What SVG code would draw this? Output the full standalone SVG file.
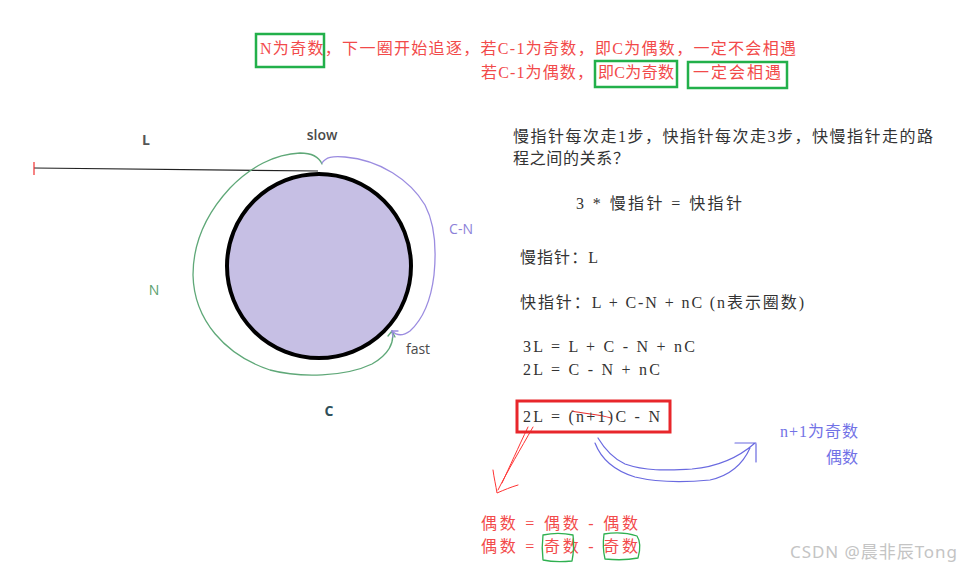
<svg xmlns="http://www.w3.org/2000/svg" width="961" height="571" viewBox="0 0 961 571">
<style>
.red{fill:#f24a4a;font-family:"Liberation Serif","Noto Sans CJK SC",serif;font-size:16px}
.blk{fill:#333;font-family:"Liberation Serif","Noto Sans CJK SC",serif;font-size:16px}
.blu{fill:#7272e6;font-family:"Liberation Serif","Noto Sans CJK SC",serif;font-size:16px}
.lbl{font-family:"Open Sans","Noto Sans",sans-serif;font-size:14px}
.gbox{fill:none;stroke:#22b04a;stroke-width:2.5}
.hand{fill:none;stroke-linecap:round;stroke-linejoin:round}
</style>
<rect width="961" height="571" fill="#fff"/>

<g id="top-note">
<text class="red" x="260" y="54" textLength="536">N为奇数，下一圈开始追逐，若C-1为奇数，即C为偶数，一定不会相遇</text>
<text class="red" x="481" y="78" textLength="112">若C-1为偶数，</text>
<text class="red" x="598" y="78" textLength="76">即C为奇数</text>
<text class="red" x="693" y="78" textLength="88">一定会相遇</text>
<rect class="gbox" x="256" y="34" width="68" height="33"/>
<rect class="gbox" x="595" y="61" width="82" height="26"/>
<rect class="gbox" x="688" y="62" width="99" height="26"/>
</g>

<g id="loop">
<line x1="34" y1="168" x2="318" y2="171" stroke="#222" stroke-width="1.2"/>
<line x1="34" y1="162" x2="34" y2="175" stroke="#f03030" stroke-width="1.2"/>
<circle cx="319" cy="266" r="92" fill="#c6bfe4" stroke="#000" stroke-width="4"/>
<text class="lbl" x="146" y="145" fill="#555" text-anchor="middle" font-weight="bold">L</text>
<text class="lbl" x="322" y="140" fill="#4a4a4a" text-anchor="middle" font-weight="600">slow</text>
<text class="lbl" x="461" y="234" fill="#8c7fd8" text-anchor="middle">C-N</text>
<text class="lbl" x="154" y="295" fill="#5a9e6e" text-anchor="middle">N</text>
<text class="lbl" x="418" y="354" fill="#4a4a4a" text-anchor="middle">fast</text>
<text class="lbl" x="329" y="416" fill="#2f4f5a" text-anchor="middle" font-weight="bold">C</text>
</g>

<g id="connectors">
<path class="hand" stroke="#5fa878" stroke-width="1.3" d="M322,164 C319,157 313,153 300,153 C275,154 250,167 230,188 C205,215 193,245 193,275 C194,320 225,355 270,370 C300,378 345,377 372,364 C388,355 395,343 392,331"/>
<path class="hand" stroke="#5fa878" stroke-width="1.3" d="M388,336 L392,331 L395,337"/>
<path class="hand" stroke="#9b8ce0" stroke-width="1.3" d="M322,163 C326,157 332,156 345,157 C380,160 410,180 425,205 C437,228 436,255 434,275 C431,300 422,320 410,331 C403,336 397,336 392,331"/>
<path class="hand" stroke="#9b8ce0" stroke-width="1.3" d="M393,337 L392,331 L398,331"/>
<path class="hand" stroke="#e83030" stroke-width="1.2" d="M572,411 C585,414 598,414 611,418"/>
<path class="hand" stroke="#ff3434" stroke-width="1" d="M533,427 C520,450 508,470 498,490 M528,427 C518,448 510,466 502,483 M493,470 C494,478 496,486 497,493 C504,490 511,487 518,485"/>
<path class="hand" stroke="#6a6ae0" stroke-width="1.2" d="M598,438 C604,448 612,458 625,464 C648,472 670,470 692,469 C715,467 738,458 755,443 M595,443 C600,456 612,470 635,477 C660,483 690,482 710,480 C728,476 742,466 750,448 M735,443 L756,443 M756,444 L756,462"/>
</g>

<g id="derivation">
<text class="blk" x="513" y="142" textLength="420">慢指针每次走1步，快指针每次走3步，快慢指针走的路</text>
<text class="blk" x="513" y="164" textLength="116">程之间的关系？</text>
<text class="blk" x="576" y="209" textLength="166">3 * 慢指针 = 快指针</text>
<text class="blk" x="520" y="263" textLength="78">慢指针：L</text>
<text class="blk" x="520" y="308" textLength="284">快指针：L + C-N + nC (n表示圈数)</text>
<text class="blk" x="523" y="352" textLength="172">3L = L + C - N + nC</text>
<text class="blk" x="523" y="375" textLength="137">2L = C - N + nC</text>
</g>

<g id="result-box">
<rect x="517" y="401" width="153" height="31" fill="none" stroke="#e8262b" stroke-width="3"/>
<text class="blk" x="523" y="422" textLength="137">2L = (n+1)C - N</text>
</g>

<g id="parity-note">
<text class="blu" x="780" y="437" textLength="78">n+1为奇数</text>
<text class="blu" x="826" y="463" textLength="32">偶数</text>
</g>

<g id="parity-eq">
<text class="red" x="481" y="529" textLength="157">偶数 = 偶数 - 偶数</text>
<text class="red" x="481" y="552" textLength="157">偶数 = 奇数 - 奇数</text>
<path class="hand" stroke="#2fb050" stroke-width="1.3" d="M543,535 C552,533 564,533 573,535 C574,543 574,551 572,561 C562,562 552,562 543,560 C542,552 542,543 543,535"/>
<path class="hand" stroke="#2fb050" stroke-width="1.3" d="M604,534 C616,532 628,533 637,536 C641,542 640,551 638,558 C628,560 615,560 605,559 C603,551 603,542 604,534"/>
</g>

<text x="957" y="558" text-anchor="end" textLength="167" fill="#c4c4c4" font-family="'Noto Sans','Noto Sans CJK SC',sans-serif" font-size="17">CSDN @晨非辰Tong</text>
</svg>
